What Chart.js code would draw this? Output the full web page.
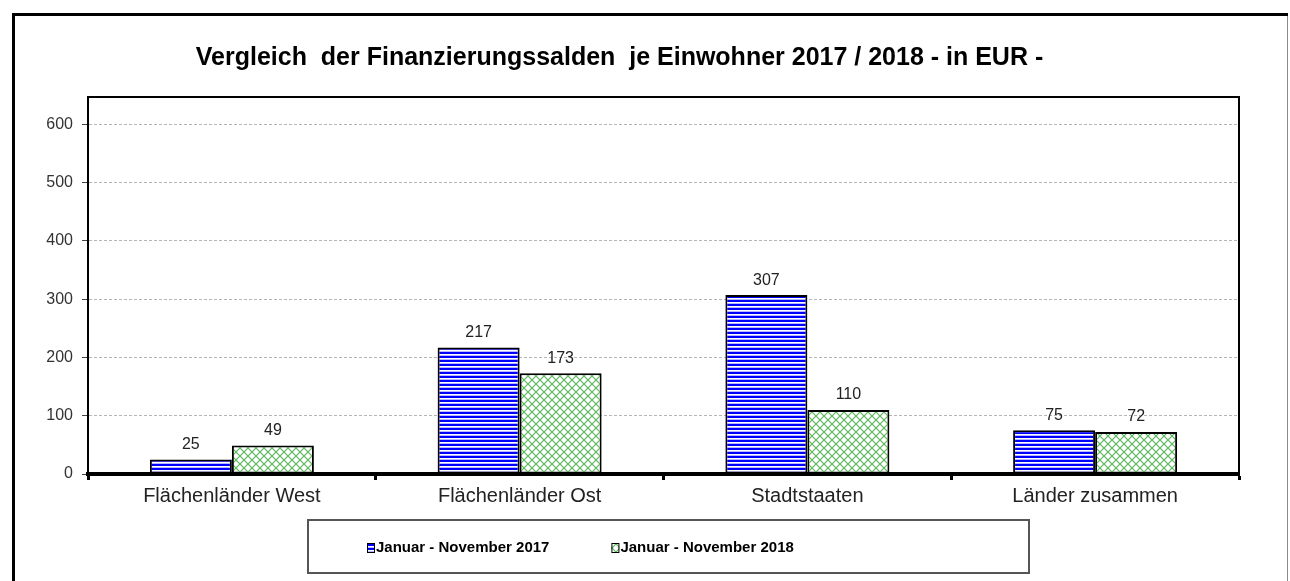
<!DOCTYPE html>
<html>
<head>
<meta charset="utf-8">
<script src="https://cdn.jsdelivr.net/npm/chart.js@4/dist/chart.umd.min.js"></script>
<style>
  html, body { margin: 0; padding: 0; background: #fff; overflow: hidden; }
  #wrap { position: relative; width: 1290px; height: 581px; }
</style>
</head>
<body>
<div id="wrap"><canvas id="chart" width="1290" height="581"></canvas></div>
<script>
// Werte
var kategorien = ['Flächenländer West', 'Flächenländer Ost', 'Stadtstaaten', 'Länder zusammen'];
var werte2017 = [25, 217, 307, 75];
var werte2018 = [49, 173, 110, 72];
var serienNamen = ['Januar - November 2017', 'Januar - November 2018'];
var titel = 'Vergleich  der Finanzierungssalden  je Einwohner 2017 / 2018 - in EUR -';

var schrift = '"Liberation Sans", Arial, sans-serif';

function streifenMuster() {
	var c = document.createElement('canvas');
	c.width = 4; c.height = 4;
	var g = c.getContext('2d');
	g.fillStyle = '#ffffff';
	g.fillRect(0, 0, 4, 4);
	g.fillStyle = '#0000ff';
	g.fillRect(0, 0, 4, 2);
	g.fillStyle = '#b8b8ff';
	g.fillRect(0, 3, 4, 1);
	return g.createPattern(c, 'repeat');
}

function gitterMuster() {
	var c = document.createElement('canvas');
	c.width = 8; c.height = 8;
	var g = c.getContext('2d');
	g.fillStyle = '#ffffff';
	g.fillRect(0, 0, 8, 8);
	g.strokeStyle = '#5cb85c';
	g.lineWidth = 1.2;
	g.beginPath();
	g.moveTo(-1, -1); g.lineTo(9, 9);
	g.moveTo(9, -1); g.lineTo(-1, 9);
	g.stroke();
	return g.createPattern(c, 'repeat');
}

var muster = [streifenMuster(), gitterMuster()];

// Rahmen um das ganze Bild und um die Zeichenfläche
var rahmen = {
	id: 'rahmen',
	beforeDraw: function (chart) {
		var ctx = chart.ctx;
		ctx.save();
		ctx.fillStyle = '#fff';
		ctx.fillRect(0, 0, chart.width, chart.height);
		ctx.fillStyle = '#000';
		ctx.fillRect(12, 13, 3, chart.height - 13);
		ctx.fillRect(12, 13, 1276, 3);
		ctx.fillStyle = '#8a8a8a';
		ctx.fillRect(1287, 16, 1, chart.height - 16);
		ctx.restore();
	},
	afterDraw: function (chart) {
		var a = chart.chartArea, ctx = chart.ctx;
		ctx.save();
		ctx.strokeStyle = '#000';
		ctx.lineWidth = 2;
		ctx.beginPath();
		ctx.moveTo(a.left, a.bottom);
		ctx.lineTo(a.left, a.top);
		ctx.lineTo(a.right, a.top);
		ctx.lineTo(a.right, a.bottom);
		ctx.stroke();
		ctx.restore();
	}
};

// Werte über den Säulen
var beschriftung = {
	id: 'beschriftung',
	afterDatasetsDraw: function (chart) {
		var ctx = chart.ctx;
		ctx.save();
		ctx.font = '16px ' + schrift;
		ctx.fillStyle = '#222';
		ctx.textAlign = 'center';
		ctx.textBaseline = 'middle';
		chart.data.datasets.forEach(function (ds, i) {
			chart.getDatasetMeta(i).data.forEach(function (bar, j) {
				ctx.fillText(String(ds.data[j]), bar.x, bar.y - 15);
			});
		});
		ctx.restore();
	}
};

// Legende im Kasten unten
var legende = {
	id: 'legende',
	afterDraw: function (chart) {
		var ctx = chart.ctx;
		ctx.save();
		ctx.strokeStyle = '#555';
		ctx.lineWidth = 2;
		ctx.strokeRect(308, 520, 721, 53);
		ctx.font = 'bold 15px ' + schrift;
		ctx.textBaseline = 'middle';
		ctx.fillStyle = '#000';
		var x = 367, y = 548;
		chart.data.datasets.forEach(function (ds) {
			ctx.fillStyle = ds.backgroundColor;
			ctx.fillRect(x, y - 5, 8, 10);
			ctx.strokeStyle = '#000';
			ctx.lineWidth = 1;
			ctx.strokeRect(x + 0.5, y - 4.5, 7, 9);
			ctx.fillStyle = '#000';
			ctx.fillText(ds.label, x + 9, y);
			x += 9 + ctx.measureText(ds.label).width + 62;
		});
		ctx.restore();
	}
};

new Chart(document.getElementById('chart'), {
	type: 'bar',
	data: {
		labels: kategorien,
		datasets: [{
			label: serienNamen[0],
			data: werte2017,
			backgroundColor: muster[0],
			borderColor: '#000',
			borderWidth: 2,
			borderSkipped: false
		}, {
			label: serienNamen[1],
			data: werte2018,
			backgroundColor: muster[1],
			borderColor: '#000',
			borderWidth: 2,
			borderSkipped: false
		}]
	},
	options: {
		responsive: false,
		animation: false,
		events: [],
		layout: { padding: { left: 0, right: 51, top: 0, bottom: 0 } },
		datasets: { bar: { categoryPercentage: 0.57, barPercentage: 1 } },
		plugins: {
			legend: { display: false },
			tooltip: { enabled: false },
			title: {
				display: true,
				text: titel,
				color: '#000',
				font: { family: schrift, size: 25, weight: 'bold' },
				padding: { top: 43, bottom: 24 }
			}
		},
		scales: {
			x: {
				z: 1,
				offset: true,
				grid: {
					offset: true,
					drawOnChartArea: false,
					drawTicks: true,
					tickLength: 6,
					tickWidth: 3,
					tickColor: '#000'
				},
				border: { display: true, color: '#000', width: 4 },
				ticks: {
					color: '#222',
					padding: 4,
					font: { family: schrift, size: 20 }
				},
				afterFit: function (s) { s.height = 107; }
			},
			y: {
				min: 0,
				max: 647,
				ticks: {
					stepSize: 100,
					color: '#333',
					padding: 9,
					font: { family: schrift, size: 16 }
				},
				afterBuildTicks: function (s) {
					s.ticks = s.ticks.filter(function (t) { return t.value % 100 === 0; });
				},
				grid: {
					color: function (c) { return c.tick && c.tick.value === 0 ? 'rgba(0,0,0,0)' : '#b5b5b5'; },
					lineWidth: 1,
					tickLength: 6,
					tickColor: '#444',
					tickWidth: 1,
					tickBorderDash: []
				},
				border: { display: true, color: '#000', width: 2, dash: [3, 2] },
				afterFit: function (s) { s.width = 88; }
			}
		}
	},
	plugins: [rahmen, beschriftung, legende]
});
</script>
</body>
</html>
